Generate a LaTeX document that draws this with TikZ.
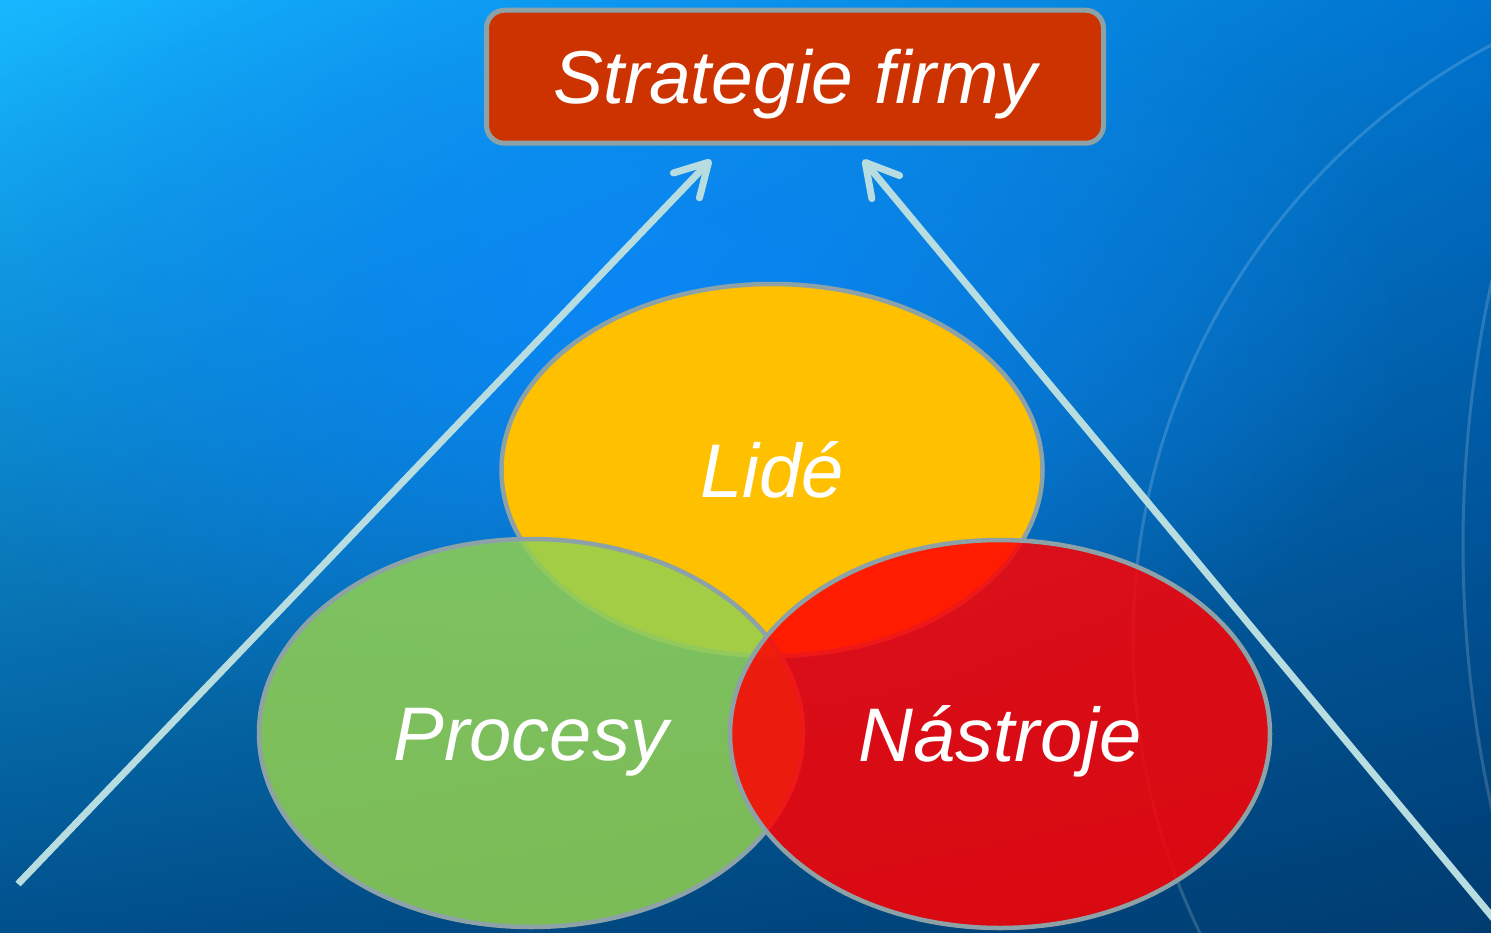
\documentclass[tikz,border=0pt]{standalone}
\usepackage{fontspec}
\setmainfont{Liberation Sans}
\usetikzlibrary{shapes,arrows.meta,positioning,calc,fadings,shadings}

\definecolor{bgA}{HTML}{17B8FF}
\definecolor{bgB}{HTML}{0074D0}
\definecolor{bgC}{HTML}{00508C}
\definecolor{bgD}{HTML}{003C70}
\definecolor{bgglow}{HTML}{0A88FF}
\definecolor{boxred}{HTML}{CC3300}
\definecolor{edgegrey}{HTML}{8DA2A6}
\definecolor{arrowcyan}{HTML}{B8DDE0}
\definecolor{lideyellow}{HTML}{FFC000}
\definecolor{procgreen}{HTML}{92D050}
\definecolor{nastred}{HTML}{FF0000}

\tikzfading[name=glowfade, inner color=transparent!15, outer color=transparent!100]

\begin{document}
\begin{tikzpicture}[x=1pt,y=-1pt]
  \tikzset{main node/.style={rectangle, draw=edgegrey, line width=5pt,
		fill=boxred, text=white, rounded corners=18pt,
		minimum width=617pt, minimum height=133pt,
		text height=54pt, text depth=0pt,
		font=\fontsize{75}{90}\selectfont\itshape}, }
\tikzset{set node/.style={ellipse, draw=edgegrey, line width=4.5pt,
		text=white, text opacity=1, inner sep=0pt,
		text height=54pt, text depth=0pt,
		font=\fontsize{76}{90}\selectfont\itshape}, }
\tikzset{linea/.style={-{Straight Barb[length=32pt,width=36pt,round]},
		line width=7pt, arrowcyan},}
%
\useasboundingbox (0,0) rectangle (1491,933);
\clip (0,0) rectangle (1491,933);
\shade[upper left=bgA, upper right=bgB, lower left=bgC, lower right=bgD]
  (0,0) rectangle (1491,933);
\fill[bgglow, path fading=glowfade] (650,320) ellipse (760 and 460);
\draw[white, opacity=.16, line width=3pt] (1806,640) circle (673);
\draw[white, opacity=.16, line width=3pt] (2675,545) circle (1212);
%
   \node[set node, fill=lideyellow, minimum width=541pt, minimum height=372pt] (2) at (772,470) {Lidé};
   \node[set node, fill=procgreen, fill opacity=.85, minimum width=544pt, minimum height=388pt] (3) at (531,733) {Procesy};
   \node[set node, fill=nastred, fill opacity=.85, minimum width=540pt, minimum height=388pt] (4) at (1000,734) {Nástroje};
    \node[main node] (1) [above=136pt of 2, xshift=23pt] {Strategie firmy};
%
\coordinate (5) at (18,884);
\coordinate (6) at (1494,919);
\coordinate (7) at ($(1.south)+(-84,14)$);
\coordinate (8) at ($(1.south)+(68,14)$);
\foreach \x /\y in{5/7,6/8}
  \path[linea] (\x) edge node {} (\y);
%
\end{tikzpicture}
\end{document}
